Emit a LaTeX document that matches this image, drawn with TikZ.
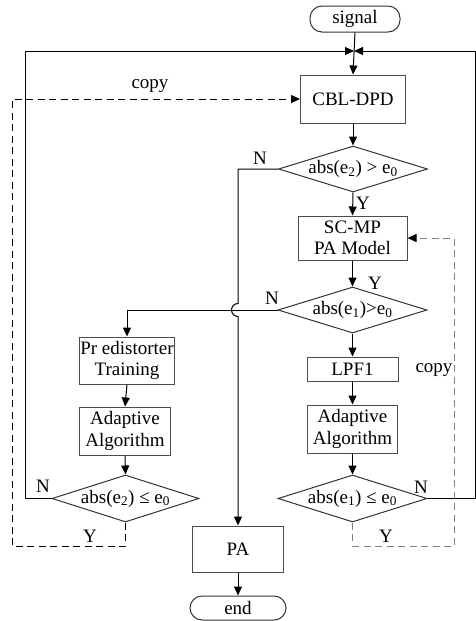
\documentclass[tikz,border=0pt]{standalone}
\usepackage{fontspec}
\setmainfont{Liberation Serif}
\usetikzlibrary{positioning}
\usetikzlibrary{calc}
\usetikzlibrary{shapes.geometric}
\usetikzlibrary{arrows.meta}

\tikzset{
    txt/.style={font=\fontsize{19}{21.5}\selectfont},
    box/.style={txt, draw=black!70, line width=1pt, rectangle, inner sep=0pt, align=center},
    term/.style={txt, draw=black!80, line width=1pt, rectangle, rounded corners=12pt, inner sep=0pt},
    decision/.style={txt, draw=black!80, line width=1pt, diamond, aspect=3.2, inner sep=-8pt},
    flow/.style={line width=1pt, -{Triangle[length=9pt,width=8pt]}},
    copyline/.style={line width=1pt, dash pattern=on 7pt off 4.5pt, -{Triangle[length=9pt,width=8pt]}},
}

\begin{document}
\begin{tikzpicture}[x=1pt, y=-1pt]
    \useasboundingbox (0,0) rectangle (475,621);

    % main column
    \node[term, minimum width=90pt, minimum height=26pt] (signal) at (355,19) {signal};
    \node[box, minimum width=105pt, minimum height=48pt] (cbl) at (353,99) {CBL-DPD};
    \node[decision, minimum width=149pt, minimum height=46pt] (d1) at (353,169) {abs(e\textsubscript{2}) > e\textsubscript{0}};
    \node[box, minimum width=109pt, minimum height=44pt] (scmp) at (352.5,238) {SC-MP\\PA Model};
    \node[decision, minimum width=149pt, minimum height=46pt] (d2) at (352.5,310) {abs(e\textsubscript{1})>e\textsubscript{0}};
    \node[box, minimum width=91pt, minimum height=24pt] (lpf) at (352.5,369) {LPF1};
    \node[box, minimum width=90pt, minimum height=48pt] (adr) at (352.5,429) {Adaptive\\Algorithm};
    \node[decision, minimum width=149pt, minimum height=47pt] (d4) at (352.5,498.5) {abs(e\textsubscript{1}) ≤ e\textsubscript{0}};

    % left column
    \node[box, minimum width=95pt, minimum height=47pt] (pre) at (127,360.5) {Pr edistorter\\Training};
    \node[box, minimum width=91pt, minimum height=48pt] (adl) at (125,431) {Adaptive\\Algorithm};
    \node[decision, minimum width=147pt, minimum height=47pt] (d3) at (125.5,498.5) {abs(e\textsubscript{2}) ≤ e\textsubscript{0}};

    % output
    \node[box, minimum width=91pt, minimum height=46pt] (pa) at (238,549) {PA};
    \node[term, minimum width=96pt, minimum height=24pt] (stop) at (238,608) {end};

    % corners of the loops
    \coordinate (join) at (354,51);
    \coordinate (lt) at (25,51);
    \coordinate (rt) at (475,51);
    \coordinate (hop) at (238,310);
    \coordinate (cl) at (12,546);
    \coordinate (cr) at (454,546);

    \draw[flow] (signal.south) -- (cbl.north);
    \draw[flow] (cbl.south) -- (d1.north);
    \draw[flow] (d1.south) -- (scmp.north);
    \draw[flow] (scmp.south) -- (d2.north);
    \draw[flow] (d2.south) -- (lpf.north);
    \draw[flow] (lpf.south) -- (adr.north);
    \draw[flow] (adr.south) -- (d4.north);
    \draw[flow] (d2.west) -| (pre.north);
    \draw[flow] (pre.south) -- (adl.north);
    \draw[flow] (adl.south) -- (d3.north);
    \draw[flow] (pa.south) -- (stop.north);
    \draw[flow] (d1.west) -| ($(hop)+(0,-6.5)$) arc[start angle=270, end angle=90, radius=6.5] -- (pa.north);
    \draw[flow] (d3.west) -| (lt) -- (join);
    \draw[flow] (d4.east) -| (rt) -- (join);

    \draw[copyline] (d3.south) |- (cl) |- (cbl.west);
    \draw[copyline, gray, -{Triangle[length=9pt,width=8pt,color=black]}] (d4.south) |- (cr) |- (scmp.east);

    % labels
    \node[txt] (copyl) at (150,86) {copy};
    \node[txt] (copyr) at (434,370) {copy};
    \node[txt] (n1) at (260,158) {N};
    \node[txt] (n2) at (272,298) {N};
    \node[txt] (n3) at (43,486) {N};
    \node[txt] (n4) at (421,487) {N};
    \node[txt] (y1) at (363,203) {Y};
    \node[txt] (y2) at (375,283) {Y};
    \node[txt] (y3) at (90,536) {Y};
    \node[txt] (y4) at (386,536) {Y};
\end{tikzpicture}
\end{document}
